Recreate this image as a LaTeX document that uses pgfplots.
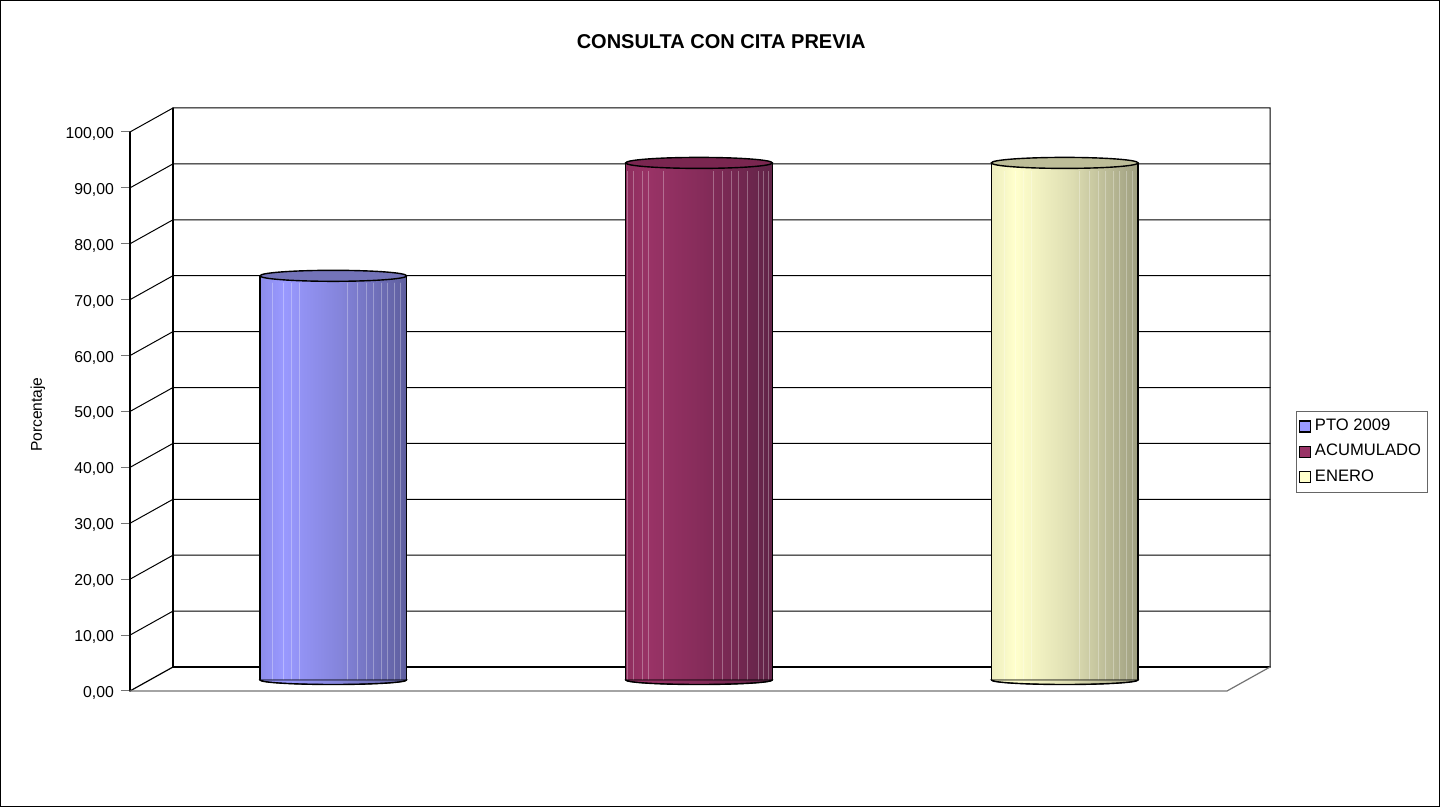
\documentclass[border=0pt]{standalone}
\usepackage{fontspec}
\setmainfont{Liberation Sans}
\usepackage{pgfplots}
\pgfplotsset{compat=1.18}

% 1 px of the reference = 0.5pt here
\definecolor{capA}{HTML}{7373B8}
\definecolor{capB}{HTML}{7A2650}
\definecolor{capC}{HTML}{BDBD98}
\pgfdeclarehorizontalshading{shA}{100bp}{rgb(0bp)=(.55,.55,.92);
  rgb(25bp)=(.55,.55,.92); rgb(33bp)=(.60,.60,1); rgb(52bp)=(.52,.52,.86);
  rgb(75bp)=(.37,.37,.62); rgb(100bp)=(.37,.37,.62)}
\pgfdeclarehorizontalshading{shB}{100bp}{rgb(0bp)=(.56,.18,.37);
  rgb(25bp)=(.56,.18,.37); rgb(33bp)=(.60,.20,.40); rgb(52bp)=(.52,.17,.35);
  rgb(75bp)=(.38,.14,.28); rgb(100bp)=(.38,.14,.28)}
\pgfdeclarehorizontalshading{shC}{100bp}{rgb(0bp)=(.93,.93,.75);
  rgb(25bp)=(.93,.93,.75); rgb(33bp)=(1,1,.80); rgb(52bp)=(.87,.87,.70);
  rgb(75bp)=(.62,.62,.50); rgb(100bp)=(.62,.62,.50)}
\newcommand\declcyl[1]{%
  \pgfdeclareplotmark{bot#1}{%
    \fill[shading=sh#1] (-36.65pt,0pt) arc[start angle=180,end angle=360,x radius=36.65pt,y radius=2.25pt] -- cycle;
    \draw[black,line width=.7pt] (-36.65pt,0pt) arc[start angle=180,end angle=360,x radius=36.65pt,y radius=2.25pt];}}
\declcyl{A}\declcyl{B}\declcyl{C}
\pgfdeclareplotmark{cap}{%
  \pgfpathellipse{\pgfpointorigin}{\pgfqpoint{36.65pt}{0pt}}{\pgfqpoint{0pt}{2.75pt}}%
  \pgfusepathqfillstroke}

% one cylinder: letter, centre, value
\newcommand\cyl[3]{%
  \addplot[forget plot,only marks,mark=bot#1,yshift=5.5pt] coordinates {(#2,0)};
  \addplot[forget plot,ybar,bar width=73.3pt,bar shift=0pt,draw=none,shading=sh#1,yshift=5.5pt] coordinates {(#2,#3)};
}

\begin{document}
\begin{tikzpicture}
\useasboundingbox (0,0) rectangle (720pt,403.5pt);
\draw[black,line width=.6pt] (.3pt,.3pt) rectangle (719.7pt,403.2pt);
\begin{axis}[
  at={(65pt,58pt)}, anchor=south west,
  scale only axis, width=570pt, height=291.5pt,
  xmin=130, xmax=1270, ymin=0, ymax=104.29,
  clip=false,
  axis line style={draw=none},
  xtick=\empty,
  ytick={0,10,...,100},
  ytick pos=left,
  tick align=outside,
  major tick length=4.5pt,
  y tick style={draw=black!55,line width=.5pt},
  y tick label style={font=\fontsize{7.9}{9}\selectfont,yshift=-1pt},
  /pgf/number format/.cd,fixed,fixed zerofill,precision=2,use comma,1000 sep={},assume math mode=true,
  /pgfplots/.cd,
  title={\bfseries CONSULTA CON CITA PREVIA},
  every axis title shift=0pt,
  title style={font=\fontsize{10}{12}\selectfont,at={(axis description cs:0.5186,1.1135)},anchor=center},
  ylabel={Porcentaje},
  ylabel style={font=\fontsize{7.8}{9}\selectfont,at={(axis description cs:-0.0808,0.474)},anchor=center,rotate=0},
  legend style={at={(axis description cs:1.0225,0.4105)},anchor=west,draw=black!60,line width=.5pt,
    font=\fontsize{8.3}{10}\selectfont,inner xsep=1.3pt,inner ysep=2pt,row sep=1.3pt},
  legend cell align=left,
  legend image code/.code={\draw[#1,draw=black,line width=.6pt] (0pt,-2.75pt) rectangle (5.5pt,2.75pt);},
  every axis plot/.append style={line cap=round},
]
% walls and floor
\addplot[forget plot,black,line width=.5pt] coordinates {(130,100)(173,104.29)(1270,104.29)(1270,4.29)};
\addplot[forget plot,black,line width=.5pt] coordinates {(130,90)(173,94.29)(1270,94.29)};
\addplot[forget plot,black,line width=.5pt] coordinates {(130,80)(173,84.29)(1270,84.29)};
\addplot[forget plot,black,line width=.5pt] coordinates {(130,70)(173,74.29)(1270,74.29)};
\addplot[forget plot,black,line width=.5pt] coordinates {(130,60)(173,64.29)(1270,64.29)};
\addplot[forget plot,black,line width=.5pt] coordinates {(130,50)(173,54.29)(1270,54.29)};
\addplot[forget plot,black,line width=.5pt] coordinates {(130,40)(173,44.29)(1270,44.29)};
\addplot[forget plot,black,line width=.5pt] coordinates {(130,30)(173,34.29)(1270,34.29)};
\addplot[forget plot,black,line width=.5pt] coordinates {(130,20)(173,24.29)(1270,24.29)};
\addplot[forget plot,black,line width=.5pt] coordinates {(130,10)(173,14.29)(1270,14.29)};
\addplot[forget plot,black,line width=.6pt] coordinates {(130,0)(130,100)};
\addplot[forget plot,black,line width=.6pt] coordinates {(173,4.29)(173,104.29)};
\addplot[forget plot,black,line width=.6pt] coordinates {(130,0)(173,4.29)};
\addplot[forget plot,black,line width=.9pt] coordinates {(173,4.29)(1270,4.29)};
\addplot[forget plot,black!55,line width=.6pt] coordinates {(130,0)(1227,0)(1270,4.29)};

% cylinders
\cyl{A}{333.3}{72.3}
\cyl{B}{699.0}{92.5}
\cyl{C}{1064.7}{92.5}
\addplot[forget plot,ycomb,white,opacity=.3,line width=.4pt,mark=none,yshift=5.5pt] coordinates {
 (272,71)(283,71)(291,71)(299,71)(347,71)(357,71)(366,71)(373,71)(381,71)(387,71)(394,71)(400,71)
 (627,91)(633,91)(642,91)(648,91)(663,91)(713,91)(722,91)(731,91)(738,91)(747,91)(758,91)(763,91)(768,91)
 (1004,91)(1015,91)(1023,91)(1031,91)(1079,91)(1089,91)(1098,91)(1105,91)(1113,91)(1119,91)(1126,91)(1132,91)};
\addplot[forget plot,ycomb,black,line width=.6pt,mark=none,yshift=5.5pt] coordinates {
 (260,72.3)(406.6,72.3)(625.7,92.5)(772.3,92.5)(991.4,92.5)(1138,92.5)};
\addplot[forget plot,only marks,mark=cap,mark options={fill=capA,draw=black,line width=.7pt},yshift=5.5pt] coordinates {(333.3,72.3)};
\addplot[forget plot,only marks,mark=cap,mark options={fill=capB,draw=black,line width=.7pt},yshift=5.5pt] coordinates {(699,92.5)};
\addplot[forget plot,only marks,mark=cap,mark options={fill=capC,draw=black,line width=.7pt},yshift=5.5pt] coordinates {(1064.7,92.5)};

\addlegendimage{fill={rgb,255:red,153;green,153;blue,255}}
\addlegendentry{PTO 2009}
\addlegendimage{fill={rgb,255:red,153;green,51;blue,102}}
\addlegendentry{ACUMULADO}
\addlegendimage{fill={rgb,255:red,255;green,255;blue,204}}
\addlegendentry{ENERO}
\end{axis}
\end{tikzpicture}
\end{document}
